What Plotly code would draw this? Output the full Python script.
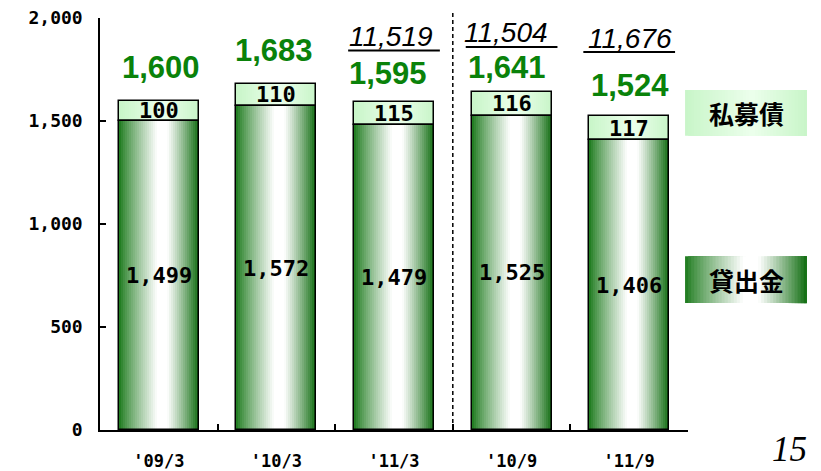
import plotly.graph_objects as go

# ---- data ----
categories = ["'09/3", "'10/3", "'11/3", "'10/9", "'11/9"]
loans = [1499, 1572, 1479, 1525, 1406]          # 貸出金
bonds = [100, 110, 115, 116, 117]               # 私募債
totals = [1600, 1683, 1595, 1641, 1524]
group_totals = [None, None, 11519, 11504, 11676]

# ---- styling ----
BAR_W = 0.68
N = 40
DARK_L = (25, 120, 25)
DARK_R = (15, 108, 15)
WHITE = (255, 255, 255)
LIGHT = (200, 245, 200)
LIGHT_C = (236, 255, 236)
GREEN_TXT = "#0a820a"
MONO = "DejaVu Sans Mono"

def lerp(a, b, t):
    return tuple(int(round(a[k] + (b[k] - a[k]) * t)) for k in range(3))

def grad_dark(t):
    if t < 0.48:
        return lerp(DARK_L, WHITE, (t / 0.48) ** 0.85)
    if t < 0.6:
        return WHITE
    return lerp(WHITE, DARK_R, ((t - 0.6) / 0.4) ** 1.1)

def grad_light(t):
    if t < 0.55:
        return lerp(LIGHT, LIGHT_C, t / 0.55)
    return lerp(LIGHT_C, LIGHT, (t - 0.55) / 0.45)

def rgb(c):
    return "rgb(%d,%d,%d)" % c

fig = go.Figure()

# gradient stripes
for vals, bases, gfun in [(loans, [0] * len(loans), grad_dark),
                          (bonds, loans, grad_light)]:
    for i in range(N):
        t = (i + 0.5) / N
        off = -BAR_W / 2 + i * BAR_W / N
        fig.add_trace(go.Bar(
            x=categories, y=vals, base=bases,
            width=BAR_W - i * BAR_W / N, offset=off,
            marker=dict(color=rgb(gfun(t)), line=dict(width=0)),
            hoverinfo="skip", showlegend=False))

# outlines
for vals, bases in [(loans, [0] * len(loans)), (bonds, loans)]:
    fig.add_trace(go.Bar(
        x=categories, y=vals, base=bases, width=BAR_W,
        marker=dict(color="rgba(0,0,0,0)", line=dict(color="black", width=1.5)),
        hoverinfo="skip", showlegend=False))

annotations = []
shapes = []

# inside labels
for i, c in enumerate(categories):
    annotations.append(dict(x=c, y=loans[i] / 2, xref="x", yref="y",
                            text="<b>%s</b>" % f"{loans[i]:,}", showarrow=False,
                            font=dict(family=MONO, size=22, color="black")))
    annotations.append(dict(x=c, y=loans[i] + bonds[i] / 2, xref="x", yref="y",
                            text="<b>%s</b>" % f"{bonds[i]:,}", showarrow=False,
                            font=dict(family=MONO, size=22, color="black")))

# totals
total_shift = [33, 33, 28, 24, 31]
total_xshift = [2, -2, -6, -5, 1]
for i, c in enumerate(categories):
    annotations.append(dict(x=c, y=totals[i], xref="x", yref="y",
                            yshift=total_shift[i], xshift=total_xshift[i],
                            text="<b>%s</b>" % f"{totals[i]:,}", showarrow=False,
                            font=dict(family="Liberation Sans", size=31, color=GREEN_TXT)))

# consolidated italic labels + underline
ital_shift = [0, 0, 65, 59, 78]
ital_xshift = [0, 0, -3, -6, 1]
for i, c in enumerate(categories):
    if group_totals[i] is None:
        continue
    annotations.append(dict(x=c, y=totals[i], xref="x", yref="y",
                            yshift=ital_shift[i], xshift=ital_xshift[i],
                            text="<i>%s</i>" % f"{group_totals[i]:,}", showarrow=False,
                            font=dict(family="Liberation Sans", size=28, color="black")))
    shapes.append(dict(type="line", xref="x", yref="y", ysizemode="pixel",
                       yanchor=totals[i], x0=i - 0.39, x1=i + 0.39,
                       y0=ital_shift[i] - 14, y1=ital_shift[i] - 14,
                       line=dict(color="black", width=2)))

# dashed separator
shapes.append(dict(type="line", xref="x", yref="paper", x0=2.5, x1=2.5,
                   y0=0, y1=1.015, line=dict(color="black", width=1.5, dash="4px,3px")))

# legend boxes
def legend_box(y0, y1, gfun):
    x0, x1 = 0.995, 1.202
    M = 40
    for k in range(M):
        t = (k + 0.5) / M
        shapes.append(dict(type="rect", xref="paper", yref="paper",
                           x0=x0 + (x1 - x0) * k / M, x1=x1, y0=y0, y1=y1,
                           line=dict(width=0), fillcolor=rgb(gfun(t)), layer="below"))

legend_box(0.714, 0.825, grad_light)
legend_box(0.308, 0.422, grad_dark)
for txt, yy in [("私募債", 0.769), ("貸出金", 0.365)]:
    annotations.append(dict(x=1.099, y=yy, xref="paper", yref="paper", text="<b>%s</b>" % txt,
                            xanchor="center", yanchor="middle", showarrow=False,
                            font=dict(family="Noto Sans CJK JP", size=25, color="black")))
annotations.append(dict(x=1.173, y=-0.097, xref="paper", yref="paper", text="<i>15</i>",
                        xanchor="center", yanchor="bottom", showarrow=False, borderpad=0,
                        font=dict(family="Liberation Serif", size=35, color="black")))

axis_font = dict(family=MONO, size=18, color="black", weight="bold")
fig.update_layout(
    width=821, height=471,
    margin=dict(l=100, r=133, t=18, b=41),
    barmode="overlay", bargap=0,
    plot_bgcolor="white", paper_bgcolor="white",
    annotations=annotations, shapes=shapes,
    showlegend=False,
    xaxis=dict(type="category", range=[-0.5, 4.5], tickson="boundaries",
               ticks="inside", ticklen=6, tickwidth=1.5, tickcolor="black",
               showline=True, linecolor="black", linewidth=1.5, showgrid=False,
               tickfont=dict(family=MONO, size=17, color="black", weight="bold"),
               automargin=False, ticklabelstandoff=15, zeroline=False),
    yaxis=dict(range=[0, 2000], tickvals=[0, 500, 1000, 1500, 2000], tickformat=",d",
               ticks="inside", ticklen=6, tickwidth=1.5, tickcolor="black",
               showline=True, linecolor="black", linewidth=1.5, showgrid=False,
               zeroline=False, tickfont=axis_font, automargin=False,
               ticklabelstandoff=12),
)

fig.write_html("out.html", config={"displayModeBar": False},
               post_script="document.body.style.margin='0';")
